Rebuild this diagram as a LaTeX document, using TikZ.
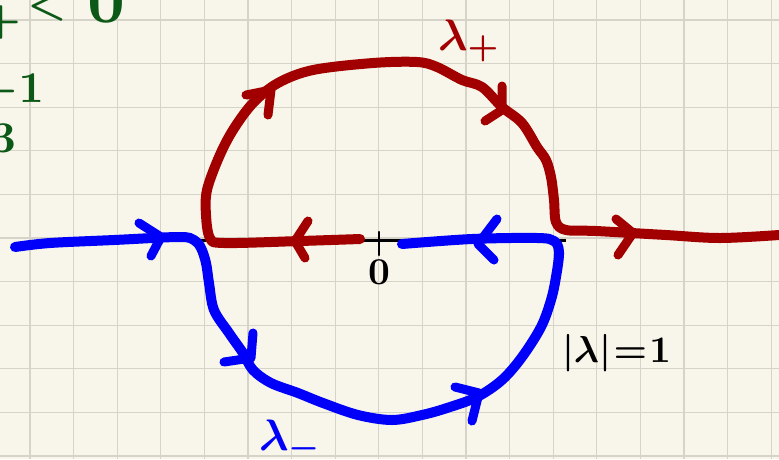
\documentclass[tikz,border=0pt]{standalone}
\definecolor{paper}{RGB}{248,246,234}
\definecolor{gridc}{RGB}{214,212,200}
\definecolor{cred}{RGB}{162,0,0}
\definecolor{cblue}{RGB}{0,0,250}
\definecolor{cgreen}{RGB}{12,88,22}
\begin{document}
\begin{tikzpicture}[x=1pt,y=-1pt,
  pen/.style={line width=10pt, line cap=round, line join=round},
  redpen/.style={pen, draw=cred},
  bluepen/.style={pen, draw=cblue},
  chevred/.style={line width=9pt, line cap=round, line join=round, draw=cred},
  chevblue/.style={line width=9pt, line cap=round, line join=round, draw=cblue},
  gridline/.style={draw=gridc, line width=1.3pt},
  lbl/.style={inner sep=0pt, outer sep=0pt, font=\boldmath},
  bigsize/.style={scale=4.4},
  midsize/.style={scale=3.75},
  zsize/.style={scale=3.8},
]
\fill[paper] (0,0) rectangle (779,459);
\useasboundingbox (0,0) rectangle (779,459);
\begin{scope}
\clip (0,0) rectangle (779,459);
\foreach \i in {0,...,17} \draw[gridline] ({30+43.6*\i},0) -- ({30+43.6*\i},459);
\foreach \j in {0,...,10} \draw[gridline] (0,{20+43.6*\j}) -- (779,{20+43.6*\j});

% green partial text at top left
\node[lbl, bigsize, text=cgreen, anchor=center] (gplus) at (1,22) {$+$};
\node[lbl, bigsize, text=cgreen, anchor=center] (glt) at (47,6) {$<$};
\node[lbl, scale=6.6, text=cgreen, anchor=base] (gzero) at (106,22) {$0$};
\node[lbl, bigsize, text=cgreen, anchor=base east] (gmone) at (44,102) {$-1$};
\node[lbl, bigsize, text=cgreen, anchor=base east] (gthree) at (16,152) {$3$};

% black axis and origin tick
\coordinate (axl) at (200,240);
\coordinate (axr) at (566,240);
\draw[line width=3pt, black] (axl) -- (axr);
\coordinate (tkt) at (379,232);
\coordinate (tkb) at (379,255);
\draw[line width=2.5pt, black, line cap=round] (tkt) -- (tkb);

% blue path (lambda minus)
\draw[bluepen] plot[smooth, tension=0.55] coordinates {
 (15,247) (50,243) (114,240) (179,237) (194,240) (201,248) (206,263) (209,283)
 (214,310) (229,333) (243,353) (253,370) (271,383) (298,393) (323,403) (358,415)
 (392,420) (422,415) (447,408) (477,397) (502,380) (522,357) (541,327) (551,300)
 (556,277) (559,252) (554,241) (537,238) (472,239) (402,244)};
\draw[chevblue] (139,223) -- (161,237) -- (151,256);
\draw[chevblue] (253,333) -- (251,358) -- (224,362);
\draw[chevblue] (455,387) -- (479,393) -- (472,421);
\draw[chevblue] (497,219) -- (478,244) -- (494,260);

% red path (lambda plus)
\draw[redpen] plot[smooth, tension=0.55] coordinates {
 (360,239) (300,241) (224,243) (210,238) (206,215) (207,190) (219,157) (233,130)
 (253,103) (278,83) (313,70) (373,63) (417,62) (437,67) (462,80) (482,87)
 (502,107) (522,123) (537,147) (546,160) (551,177) (554,200) (556,222) (566,230)
 (596,231) (666,235) (720,238) (779,235)};
\draw[chevred] (246,95) -- (271,90) -- (268,115);
\draw[chevred] (502,86) -- (502,110) -- (485,121);
\draw[chevred] (616,219) -- (633,233) -- (618,255);
\draw[chevred] (308,221) -- (295,241) -- (305,258);

% labels
\node[lbl, bigsize, text=cred, anchor=base west] (lplus) at (438,50) {$\lambda_+$};
\node[lbl, bigsize, text=cblue, anchor=base west] (lminus) at (259,450) {$\lambda_-$};
\node[lbl, midsize, text=black, anchor=base west] (unit) at (562,362) {$|\lambda|\mkern1mu{=}\mkern1mu1$};
\node[lbl, zsize, text=black, anchor=base] (zero) at (379,284) {$0$};
\end{scope}
\end{tikzpicture}
\end{document}
